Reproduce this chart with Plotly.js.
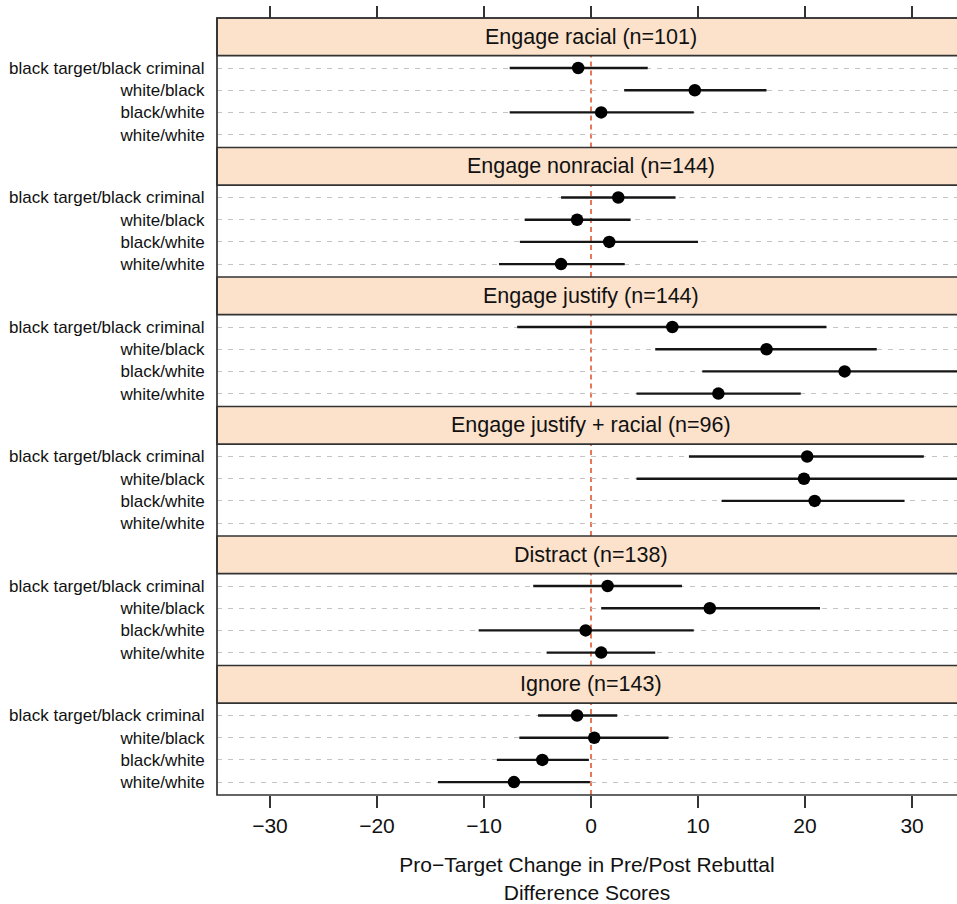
<!DOCTYPE html>
<html>
<head>
<meta charset="utf-8">
<script src="https://cdn.plot.ly/plotly-3.0.1.min.js"></script>
<style>
  html, body { margin: 0; padding: 0; background: #ffffff; }
  #chart { width: 957px; height: 904px; }
</style>
</head>
<body>
<div id="chart"></div>
<script>
// ---------------- data ----------------
const groups = [
  'Engage racial (n=101)',
  'Engage nonracial (n=144)',
  'Engage justify (n=144)',
  'Engage justify + racial (n=96)',
  'Distract (n=138)',
  'Ignore (n=143)'
];
const conditions = ['black target/black criminal', 'white/black', 'black/white', 'white/white'];

// point estimates per group (order = conditions)
const estRacial      = [-1.2, 9.7, 0.95, null];
const estNonracial   = [2.55, -1.3, 1.7, -2.8];
const estJustify     = [7.6, 16.4, 23.7, 11.9];
const estJustRacial  = [20.2, 19.9, 20.9, null];
const estDistract    = [1.55, 11.1, -0.5, 0.95];
const estIgnore      = [-1.3, 0.3, -4.55, -7.2];

// interval lower ends
const loRacial       = [-7.6, 3.1, -7.6, null];
const loNonracial    = [-2.8, -6.2, -6.65, -8.6];
const loJustify      = [-6.9, 6.0, 10.4, 4.25];
const loJustRacial   = [9.15, 4.25, 12.2, null];
const loDistract     = [-5.4, 0.95, -10.5, -4.15];
const loIgnore       = [-4.95, -6.7, -8.8, -14.3];

// interval upper ends
const hiRacial       = [5.3, 16.4, 9.6, null];
const hiNonracial    = [7.9, 3.7, 10.0, 3.15];
const hiJustify      = [22.0, 26.7, 37.0, 19.6];
const hiJustRacial   = [31.1, 37.0, 29.3, null];
const hiDistract     = [8.5, 21.4, 9.6, 6.0];
const hiIgnore       = [2.45, 7.25, -0.2, -0.1];

const xTicks = [-30, -20, -10, 0, 10, 20, 30];
const refValue = 0;
const xTitle = 'Pro\u2212Target Change in Pre/Post Rebuttal<br>Difference Scores';

// ---------------- build ----------------
const estAll = [estRacial, estNonracial, estJustify, estJustRacial, estDistract, estIgnore];
const loAll  = [loRacial, loNonracial, loJustify, loJustRacial, loDistract, loIgnore];
const hiAll  = [hiRacial, hiNonracial, hiJustify, hiJustRacial, hiDistract, hiIgnore];

const FONT = 'Liberation Sans, Arial, Helvetica, sans-serif';
const TXT = '#111111';
const xRange = [-34.95, 34.2];
const nP = groups.length;
const stripFrac = 37.7 / 777;
const yRange = [3.58, -0.555];

const traces = [];
const layout = {
  width: 957, height: 904,
  margin: {l: 217, r: 0, t: 18, b: 109},
  paper_bgcolor: '#ffffff',
  plot_bgcolor: '#ffffff',
  showlegend: false,
  font: {family: FONT, color: TXT},
  xaxis: {
    anchor: 'y' + nP,
    range: xRange,
    tickmode: 'array', tickvals: xTicks,
    ticktext: xTicks.map(v => v < 0 ? '\u2212' + Math.abs(v) : String(v)),
    ticks: 'outside', ticklen: 12, tickwidth: 1.5, tickcolor: '#333',
    showgrid: false, zeroline: false, showline: false,
    tickfont: {size: 21, family: FONT, color: TXT},
    title: {text: xTitle, font: {size: 21, family: FONT, color: TXT}, standoff: 21}
  },
  xaxis2: {
    overlaying: 'x', anchor: 'free', position: 1, side: 'top',
    range: xRange,
    tickmode: 'array', tickvals: xTicks,
    ticks: 'outside', ticklen: 12, tickwidth: 1.5, tickcolor: '#333',
    showticklabels: false, showgrid: false, zeroline: false, showline: false
  },
  shapes: [],
  annotations: []
};

for (let i = 0; i < nP; i++) {
  const top = 1 - i / nP;
  const bottom = 1 - (i + 1) / nP;
  const contentTop = top - stripFrac;
  const yName = i === 0 ? 'yaxis' : 'yaxis' + (i + 1);
  const yRef = i === 0 ? 'y' : 'y' + (i + 1);

  layout[yName] = {
    domain: [bottom, contentTop],
    anchor: 'x',
    type: 'category',
    categoryorder: 'array', categoryarray: conditions,
    range: yRange,
    showgrid: true, gridcolor: '#c4c4c4', gridwidth: 1, griddash: '5px,6px',
    zeroline: false, showline: false,
    ticks: 'outside', ticklen: 8, tickcolor: 'rgba(0,0,0,0)',
    tickfont: {size: 17, family: FONT, color: TXT},
    tickmode: 'array', tickvals: conditions, ticktext: conditions
  };

  // interval segments
  const lx = [], ly = [];
  conditions.forEach((c, k) => {
    if (loAll[i][k] !== null) {
      lx.push(loAll[i][k], hiAll[i][k], null);
      ly.push(c, c, null);
    }
  });
  traces.push({
    type: 'scatter', mode: 'lines', x: lx, y: ly,
    xaxis: 'x', yaxis: yRef,
    line: {color: '#151515', width: 2.4},
    hoverinfo: 'skip', connectgaps: false
  });
  // point estimates
  traces.push({
    type: 'scatter', mode: 'markers', x: estAll[i], y: conditions,
    xaxis: 'x', yaxis: yRef,
    marker: {color: '#000000', size: 12.5, line: {width: 0}},
    hoverinfo: 'x+y'
  });

  // reference dashed line at zero
  layout.shapes.push({
    type: 'line', xref: 'x', yref: yRef + ' domain',
    x0: refValue, x1: refValue, y0: 0, y1: 1,
    line: {color: '#e4633d', width: 1.7, dash: '5px,4px'},
    layer: 'below'
  });
  // strip
  layout.shapes.push({
    type: 'rect', xref: 'paper', yref: 'paper',
    x0: 0, x1: 1.02, y0: contentTop, y1: top,
    fillcolor: '#fce2cb',
    line: {color: '#333333', width: 1.7},
    layer: 'above'
  });
  layout.annotations.push({
    xref: 'x', yref: 'paper', x: refValue, y: (contentTop + top) / 2,
    text: groups[i], showarrow: false,
    xanchor: 'center', yanchor: 'middle',
    font: {size: 21.5, family: FONT, color: TXT}
  });
}

// outer frame
layout.shapes.push({
  type: 'rect', xref: 'paper', yref: 'paper',
  x0: 0, x1: 1.02, y0: 0, y1: 1,
  line: {color: '#333333', width: 1.7},
  fillcolor: 'rgba(0,0,0,0)', layer: 'above'
});

// dummy trace to hold the top tick axis
traces.push({
  type: 'scatter', mode: 'markers', x: [null], y: [null],
  xaxis: 'x2', yaxis: 'y', hoverinfo: 'skip', showlegend: false
});

Plotly.newPlot('chart', traces, layout, {displayModeBar: false, responsive: false});
</script>
</body>
</html>
